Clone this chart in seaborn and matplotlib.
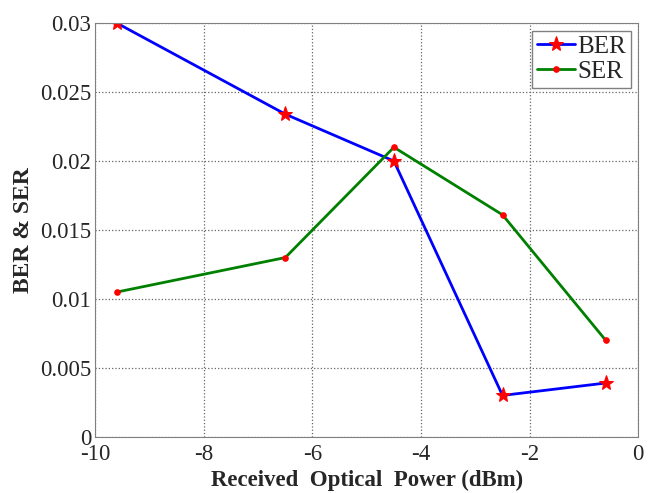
import matplotlib
matplotlib.use("Agg")
import matplotlib.pyplot as plt
import seaborn as sns
import pandas as pd

# values
power = [-9.6, -6.5, -4.5, -2.5, -0.6]
ber = [0.0300, 0.0234, 0.0200, 0.0030, 0.0039]
ser = [0.0105, 0.0130, 0.0210, 0.0161, 0.0070]

xticks = [-10, -8, -6, -4, -2, 0]
yticks = [0, 0.005, 0.01, 0.015, 0.02, 0.025, 0.03]
ytick_labels = ["0", "0.005", "0.01", "0.015", "0.02", "0.025", "0.03"]

sns.set_style("white")
plt.rcParams["font.family"] = ["Liberation Serif", "DejaVu Serif"]

df = pd.DataFrame({"power": power, "BER": ber, "SER": ser})

fig = plt.figure(figsize=(6.48, 4.93), dpi=100)
ax = fig.add_axes([0.147, 0.114, 0.838, 0.839])

sns.lineplot(data=df, x="power", y="BER", ax=ax, color="blue", lw=2,
             marker="*", markersize=11, markerfacecolor="red",
             markeredgecolor="red", label="BER")
sns.lineplot(data=df, x="power", y="SER", ax=ax, color="green", lw=2,
             marker="o", markersize=4, markerfacecolor="red",
             markeredgecolor="red", label="SER")

ax.set_xlim(-10, 0)
ax.set_ylim(0, 0.03)
ax.set_xticks(xticks)
ax.set_xticklabels([str(t) for t in xticks])
ax.set_yticks(yticks)
ax.set_yticklabels(ytick_labels)
ax.tick_params(direction="in", labelsize=16.5, length=4, color="#808080", pad=3)
ax.tick_params(axis="x", pad=5)
ax.grid(True, linestyle=":", color="#666666", lw=0.9)
for s in ax.spines.values():
    s.set_color("#808080")

ax.set_xlabel("Received  Optical  Power (dBm)", fontsize=16.5,
              fontweight="bold", labelpad=4)
ax.set_ylabel("BER & SER", fontsize=17, fontweight="bold", labelpad=4)

leg = ax.legend(loc="upper right", fontsize=18, fancybox=False,
                framealpha=1, edgecolor="#808080", handlelength=1.5,
                borderpad=0.2, labelspacing=0.1, handletextpad=0.1,
                borderaxespad=0.3)

fig.savefig("out.png", dpi=100)
